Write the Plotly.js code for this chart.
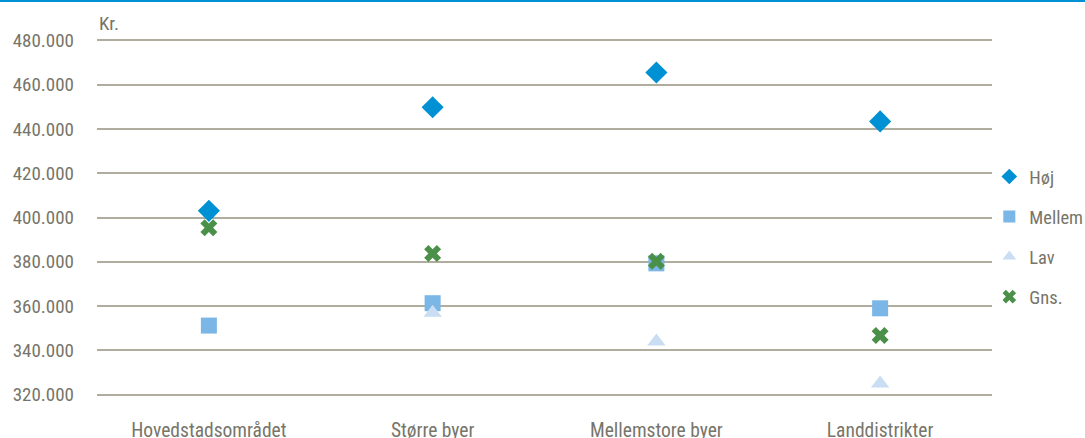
<!DOCTYPE html>
<html><head><meta charset="utf-8">
<script src="https://cdn.plot.ly/plotly-3.0.1.min.js"></script>
<style>
html,body{margin:0;padding:0;background:#fff;}
#top{height:2px;background:#0090d4;width:1085px;}
#chart{width:1085px;height:436px;}
</style></head>
<body><div id="top"></div><div id="chart"></div>
<script>
const categories = ["Hovedstadsområdet", "Større byer", "Mellemstore byer", "Landdistrikter"];
const hoej   = [403000, 449800, 465500, 443400];
const mellem = [351200, 361300, 379300, 359000];
const lav    = [null,   357000, 344000, 325000];
const gns    = [395400, 383700, 380200, 346700];
const yTicks = [320000, 340000, 360000, 380000, 400000, 420000, 440000, 460000, 480000];
const yTickText = yTicks.map(v => (v/1000).toFixed(0) + ".000");

const font = "Roboto Condensed, Roboto, sans-serif";
const txt = "#77756a";
const traces = [
  {name:"Høj", legendgroup:"a", x:categories, y:hoej, type:"scatter", mode:"markers",
   marker:{symbol:"diamond", size:17, color:"#0090d4"}},
  {name:"Mellem", legendgroup:"b", x:categories, y:mellem, type:"scatter", mode:"markers",
   marker:{symbol:"square", size:16, color:"#7ab6e6"}},
  {name:"Lav", legendgroup:"c", x:categories, y:lav, type:"scatter", mode:"markers",
   marker:{symbol:"triangle-up", size:16, color:"#c9ddf3"}},
  {name:"Gns.", legendgroup:"d", x:categories, y:gns, type:"scatter", mode:"markers",
   marker:{symbol:"x", size:15, color:"#4a9048"}}
];
const layout = {
  width:1085, height:436,
  margin:{l:97, r:93, t:35, b:40, autoexpand:false},
  paper_bgcolor:"#fff", plot_bgcolor:"#fff",
  font:{family:font, size:19, color:txt},
  showlegend:true,
  legend:{x:0.997, y:0.665, xanchor:"left", yanchor:"top", traceorder:"grouped", tracegroupgap:13,
          itemsizing:"constant", itemwidth:30, font:{family:font, size:18.5, color:txt}, bgcolor:"rgba(0,0,0,0)"},
  xaxis:{type:"category", range:[-0.5,3.5], showgrid:false, zeroline:false, showline:false,
         ticks:"", ticklabelstandoff:18, tickfont:{family:font, size:19.5, color:txt}},
  yaxis:{range:[318500,481500], tickvals:yTicks, ticktext:yTickText,
         showgrid:true, gridcolor:"#b0ad9f", gridwidth:2, zeroline:false, showline:false,
         ticks:"", ticklabelstandoff:22, tickfont:{family:font, size:19, color:txt}},
  annotations:[{text:"Kr.", xref:"paper", yref:"paper", x:0, y:1, xanchor:"left", yanchor:"bottom",
                yshift:0, showarrow:false, font:{family:font, size:19, color:txt}}]
};
Plotly.newPlot("chart", traces, layout, {displayModeBar:false, staticPlot:true});
</script></body></html>
